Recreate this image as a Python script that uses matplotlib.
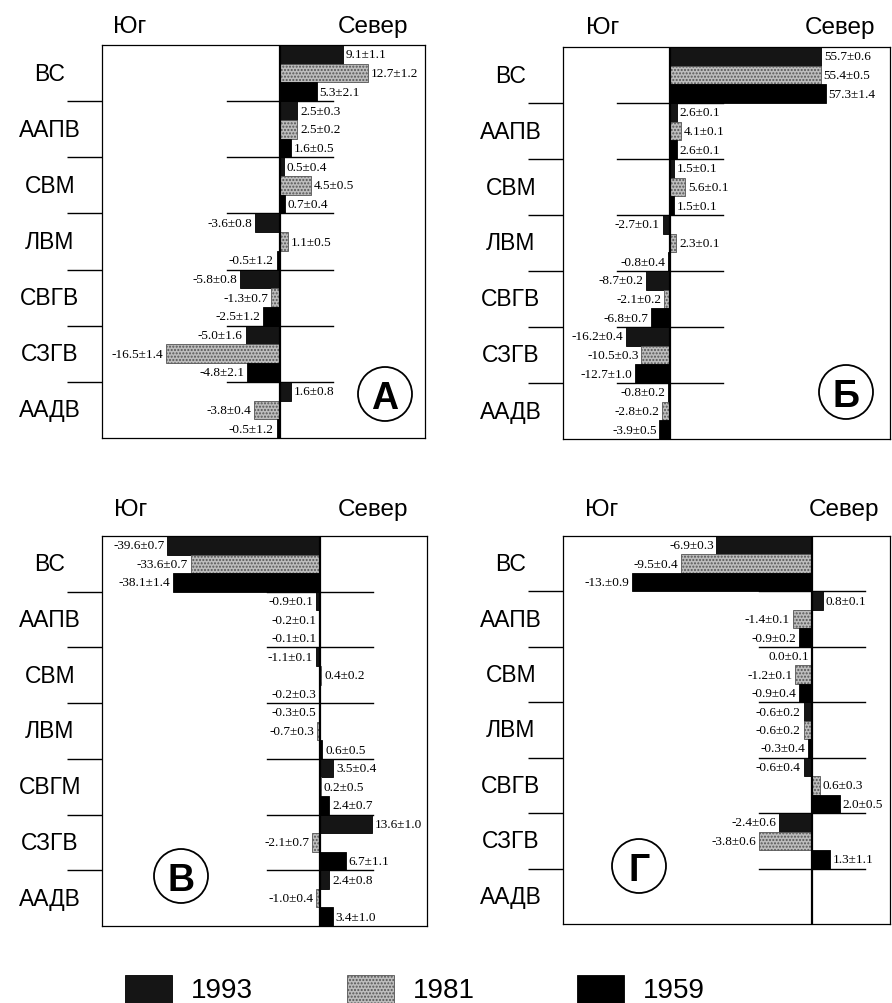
import numpy as np
import matplotlib.pyplot as plt
from matplotlib.patches import Ellipse, Rectangle

# Categories (water masses) and years
cats = ["ВС", "ААПВ", "СВМ", "ЛВМ", "СВГВ", "СЗГВ", "ААДВ"]
cats_v = ["ВС", "ААПВ", "СВМ", "ЛВМ", "СВГМ", "СЗГВ", "ААДВ"]
years = ["1993", "1981", "1959"]

# Panel А
a_1993 = [9.1, 2.5, 0.5, -3.6, -5.8, -5.0, 1.6]
a_1981 = [12.7, 2.5, 4.5, 1.1, -1.3, -16.5, -3.8]
a_1959 = [5.3, 1.6, 0.7, -0.5, -2.5, -4.8, -0.5]
a_err_1993 = [1.1, 0.3, 0.4, 0.8, 0.8, 1.6, 0.8]
a_err_1981 = [1.2, 0.2, 0.5, 0.5, 0.7, 1.4, 0.4]
a_err_1959 = [2.1, 0.5, 0.4, 1.2, 1.2, 2.1, 1.2]

# Panel Б
b_1993 = [55.7, 2.6, 1.5, -2.7, -8.7, -16.2, -0.8]
b_1981 = [55.4, 4.1, 5.6, 2.3, -2.1, -10.5, -2.8]
b_1959 = [57.3, 2.6, 1.5, -0.8, -6.8, -12.7, -3.9]
b_err_1993 = [0.6, 0.1, 0.1, 0.1, 0.2, 0.4, 0.2]
b_err_1981 = [0.5, 0.1, 0.1, 0.1, 0.2, 0.3, 0.2]
b_err_1959 = [1.4, 0.1, 0.1, 0.4, 0.7, 1.0, 0.5]

# Panel В
v_1993 = [-39.6, -0.9, -1.1, -0.3, 3.5, 13.6, 2.4]
v_1981 = [-33.6, -0.2, 0.4, -0.7, 0.2, -2.1, -1.0]
v_1959 = [-38.1, -0.1, -0.2, 0.6, 2.4, 6.7, 3.4]
v_err_1993 = [0.7, 0.1, 0.1, 0.5, 0.4, 1.0, 0.8]
v_err_1981 = [0.7, 0.1, 0.2, 0.3, 0.5, 0.7, 0.4]
v_err_1959 = [1.4, 0.1, 0.3, 0.5, 0.7, 1.1, 1.0]

# Panel Г (no ААДВ values)
g_1993 = [-6.9, 0.8, 0.0, -0.6, -0.6, -2.4, np.nan]
g_1981 = [-9.5, -1.4, -1.2, -0.6, 0.6, -3.8, np.nan]
g_1959 = [-13.0, -0.9, -0.9, -0.3, 2.0, 1.3, np.nan]
g_err_1993 = [0.3, 0.1, 0.1, 0.2, 0.4, 0.6, np.nan]
g_err_1981 = [0.4, 0.1, 0.1, 0.2, 0.3, 0.6, np.nan]
g_err_1959 = [0.9, 0.2, 0.4, 0.4, 0.5, 1.1, np.nan]

label_override = {("Г", 2, 0): "-13.±0.9"}

W, H = 892, 1004
fig = plt.figure(figsize=(W / 100, H / 100), dpi=100)
fig.patch.set_facecolor("white")

sans = "Liberation Sans"
serif = "Liberation Serif"

bar_fc = ["#151515", "#bdbdbd", "#000000"]
bar_hatch = [None, ".....", None]
bar_ec = ["black", "#555555", "black"]


def fx(x):
    return x / W


def fy(y):
    return 1 - y / H


panels = [
    dict(name="А", rect=(102, 46, 425, 439), xlim=(-25.8, 21.0), cats=cats,
         vals=[a_1993, a_1981, a_1959], errs=[a_err_1993, a_err_1981, a_err_1959],
         circle=(385, 395), south=(130, 27), north=(373, 27)),
    dict(name="Б", rect=(563, 48, 890, 440), xlim=(-39.3, 80.9), cats=cats,
         vals=[b_1993, b_1981, b_1959], errs=[b_err_1993, b_err_1981, b_err_1959],
         circle=(846, 393), south=(603, 28), north=(840, 28)),
    dict(name="В", rect=(102, 537, 427, 927), xlim=(-56.6, 27.8), cats=cats_v,
         vals=[v_1993, v_1981, v_1959], errs=[v_err_1993, v_err_1981, v_err_1959],
         circle=(181, 877), south=(131, 510), north=(373, 510)),
    dict(name="Г", rect=(563, 537, 890, 925), xlim=(-18.0, 5.65), cats=cats,
         vals=[g_1993, g_1981, g_1959], errs=[g_err_1993, g_err_1981, g_err_1959],
         circle=(639, 867), south=(602, 510), north=(844, 510)),
]

for p in panels:
    x0, y0, x1, y1 = p["rect"]
    ax = fig.add_axes([fx(x0), fy(y1), (x1 - x0) / W, (y1 - y0) / H])
    ax.set_xlim(*p["xlim"])
    ax.set_ylim(len(cats), 0)
    n = len(p["cats"])
    centers = np.arange(n) + 0.5

    for j in range(3):
        vals = np.array(p["vals"][j], dtype=float)
        errs = np.array(p["errs"][j], dtype=float)
        ypos = np.arange(n) + (j + 0.5) / 3
        ok = ~np.isnan(vals)
        ax.barh(ypos[ok], vals[ok], height=1 / 3, color=bar_fc[j],
                edgecolor=bar_ec[j], linewidth=0.6, hatch=bar_hatch[j], zorder=2)
        for i in np.where(ok)[0]:
            v, e = vals[i], errs[i]
            txt = label_override.get((p["name"], j, i), f"{v:.1f}±{e:.1f}")
            off = 2 if v > 0 else -2
            ax.annotate(txt, xy=(v, ypos[i]), xytext=(off, 0), textcoords="offset points",
                        ha="left" if v > 0 else "right", va="center",
                        fontsize=9.5, family=serif, zorder=4,
                        bbox=dict(boxstyle="square,pad=0.05", fc="white", ec="none"))

    # group separators inside, centred on zero
    half = 53 * (p["xlim"][1] - p["xlim"][0]) / (x1 - x0)
    for b in range(1, n):
        ax.plot([-half, half], [b, b], color="black", lw=1.0, zorder=1)
    ax.axvline(0, color="black", lw=1.6, zorder=3)

    ax.set_xticks([])
    ax.set_yticks(np.arange(1, n), minor=True)
    ax.set_yticks([])
    ax.tick_params(axis="y", which="minor", length=25, width=1.0, direction="out")
    for s in ax.spines.values():
        s.set_linewidth(0.9)

    for c, lab in zip(centers, p["cats"]):
        ax.annotate(lab, xy=(0, c), xycoords=("axes fraction", "data"),
                    xytext=(-37.5, 0), textcoords="offset points",
                    ha="center", va="center", fontsize=16.5, family=sans)

    fig.text(fx(p["south"][0]), fy(p["south"][1]), "Юг", ha="center", va="center",
             fontsize=17.5, family=sans)
    fig.text(fx(p["north"][0]), fy(p["north"][1]), "Север", ha="center", va="center",
             fontsize=17.5, family=sans)

    cx, cy = p["circle"]
    r = 27
    fig.add_artist(Ellipse((fx(cx), fy(cy)), width=2 * r / W, height=2 * r / H,
                           transform=fig.transFigure, fc="white", ec="black", lw=1.3,
                           zorder=5))
    fig.text(fx(cx), fy(cy), p["name"], ha="center", va="center_baseline",
             fontsize=27, fontweight="bold", family=sans, zorder=6)

# legend at the bottom
leg_x = [125, 347, 577]
for j, yr in enumerate(years):
    fig.add_artist(Rectangle((fx(leg_x[j]), fy(1010)), 47 / W, 34 / H,
                             transform=fig.transFigure, fc=bar_fc[j],
                             ec=bar_ec[j], lw=0.6, hatch=bar_hatch[j]))
    fig.text(fx(leg_x[j] + 66), fy(998), yr, ha="left", va="baseline",
             fontsize=20, family=sans)

fig.savefig("out.png", dpi=100)
